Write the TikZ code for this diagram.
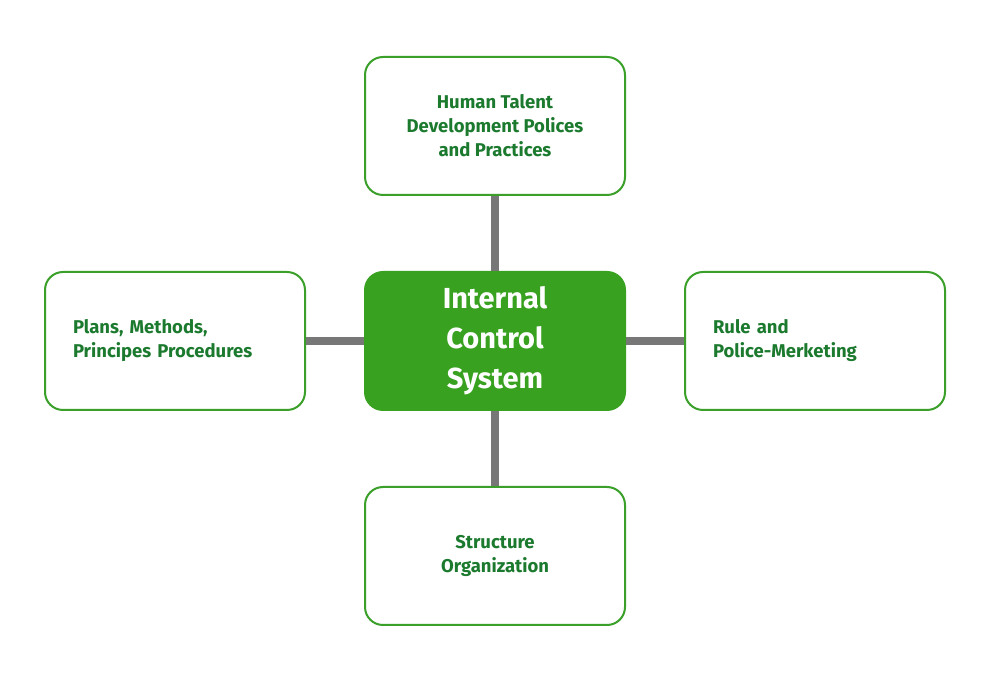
\documentclass[tikz,border=0pt]{standalone}
\usepackage{fontspec}
\setmainfont{Fira Sans}
\usetikzlibrary{positioning}

\definecolor{boxgreen}{HTML}{3AA02A}
\definecolor{fillgreen}{HTML}{38A220}
\definecolor{textgreen}{HTML}{1B7A2E}
\definecolor{linkgray}{HTML}{777777}

\begin{document}
\begin{tikzpicture}[x=1pt, y=1pt,
    item/.style={draw=boxgreen, line width=2pt, rounded corners=18pt, fill=white,
        minimum width=260pt, minimum height=138pt, text=textgreen, align=center,
        font=\bfseries\fontsize{18.5}{24}\selectfont},
    sideitem/.style={item, align=left, text width=204pt, inner xsep=28pt},
    core/.style={item, draw=fillgreen, fill=fillgreen, text=white,
        font=\bfseries\fontsize{29}{40}\selectfont},
    link/.style={draw=linkgray, line width=8pt}]
    \useasboundingbox (0, 0) rectangle (992, 684);

    % centre box and the four around it
    \node[core] (ics) at (495, 343) {Internal\\Control\\System};
    \node[item, above=75pt of ics] (talent) {Human Talent\\Development Polices\\and Practices};
    \node[item, below=75pt of ics] (structure) {Structure\\Organization};
    \node[sideitem, left=58pt of ics] (plans) {Plans, Methods,\\Principes Procedures};
    \node[sideitem, right=58pt of ics] (rule) {Rule and\\Police-Merketing};

    % links
    \draw[link] (ics.north) -- (talent.south);
    \draw[link] (ics.south) -- (structure.north);
    \draw[link] (ics.west) -- (plans.east);
    \draw[link] (ics.east) -- (rule.west);
\end{tikzpicture}
\end{document}
